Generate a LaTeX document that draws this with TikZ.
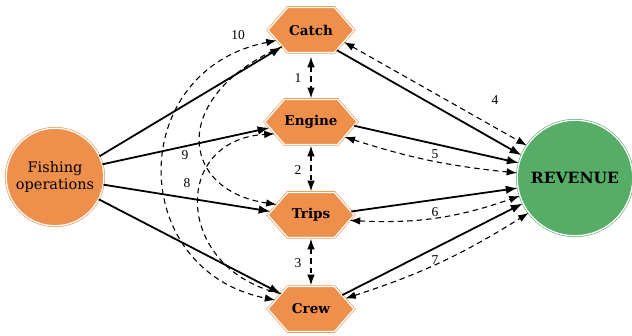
\documentclass[tikz,border=0pt]{standalone}
\usepackage{fontspec}
\setmainfont{DejaVu Serif}
\newfontfamily\numfont{Liberation Serif}
\usetikzlibrary{shapes.symbols,arrows.meta}
\definecolor{hexor}{RGB}{239,143,76}
\definecolor{revgr}{RGB}{86,173,104}
\begin{document}
\begin{tikzpicture}[x=1pt,y=1pt,
  hex/.style={signal, signal to=west and east, signal pointer angle=98,
    minimum width=86pt, minimum height=45pt, inner sep=0pt,
    fill=hexor, draw=hexor, double=white, double distance=1.3pt, line width=0.6pt,
    font=\fontsize{13.5}{15}\selectfont\bfseries},
  fish/.style={circle, minimum size=97.6pt, inner sep=0pt, align=center,
    fill=hexor, draw=hexor, double=white, double distance=1.3pt, line width=0.6pt,
    font=\fontsize{14.5}{18}\selectfont},
  rev/.style={circle, minimum size=115.6pt, inner sep=0pt,
    fill=revgr, draw=revgr, double=white, double distance=1.3pt, line width=0.6pt,
    font=\fontsize{15.5}{18}\selectfont\bfseries},
  solidarr/.style={line width=1.8pt, -{Latex[length=12pt,width=8.5pt]}},
  dasharr/.style={line width=1.1pt, dash pattern=on 5.5pt off 4pt,
    {Latex[length=10.5pt,width=7.5pt]}-{Latex[length=10.5pt,width=7.5pt]}},
  dashone/.style={line width=1.1pt, dash pattern=on 5.5pt off 4pt,
    -{Latex[length=10.5pt,width=7.5pt]}},
  num/.style={font=\numfont\fontsize{13.5}{15}\selectfont, inner sep=1pt}
]
\useasboundingbox (0,0) rectangle (632,335);

\node[hex] (Catch) at (311,305) {Catch};
\node[hex] (Engine) at (311,213) {Engine};
\node[hex] (Trips) at (311,120) {Trips};
\node[hex] (Crew) at (311,26) {Crew};
\node[fish] (F) at (55,158) {Fishing\\operations};
\node[rev] (R) at (575,157) {REVENUE};

% left dashed curves
\draw[dasharr] (Catch.197) .. controls (126,265) and (126,65) .. (Crew.166);
\draw[dashone] (Catch.210) .. controls (170,240) and (178,145) .. (Trips.163);
\draw[dashone] (Crew.153) .. controls (175,65) and (170,195) .. (Engine.198);

% vertical dashed
\draw[dasharr, shorten <=4pt, shorten >=1pt] (Catch.south) -- (Engine.north);
\draw[dasharr, shorten <=1pt, shorten >=1pt] (Engine.south) -- (Trips.north);
\draw[dasharr, shorten <=1pt, shorten >=1pt] (Trips.south) -- (Crew.north);

% solid from fishing
\draw[solidarr] (F.25) -- (Catch.210);
\draw[solidarr] (F.15) -- (Engine.188);
\draw[solidarr] (F.-9) -- (Trips.175);
\draw[solidarr] (F.-27) -- (Crew.153);

% solid to revenue
\draw[solidarr] (Catch.-38) -- (R.157);
\draw[solidarr] (Engine.-5) -- (R.165);
\draw[solidarr] (Trips.5) -- (R.190);
\draw[solidarr] (Crew.24) -- (R.206);

% dashed to revenue
\draw[dasharr] (Catch.-20) -- (R.146);
\draw[dasharr] (Engine.-24) to[bend right=6] (R.175);
\draw[dasharr] (Trips.-8) to[bend right=11] (R.198);
\draw[dasharr] (Crew.17) to[bend right=7] (R.217);

% labels
\node[num] (n10) at (238,300) {10};
\node[num] (n9) at (185,180) {9};
\node[num] (n8) at (187,152) {8};
\node[num] (n1) at (298,257) {1};
\node[num] (n2) at (298,165) {2};
\node[num] (n3) at (298,72) {3};
\node[num] (n4) at (495,235) {4};
\node[num] (n5) at (435,181) {5};
\node[num] (n6) at (435,123) {6};
\node[num] (n7) at (435,75) {7};
\end{tikzpicture}
\end{document}
